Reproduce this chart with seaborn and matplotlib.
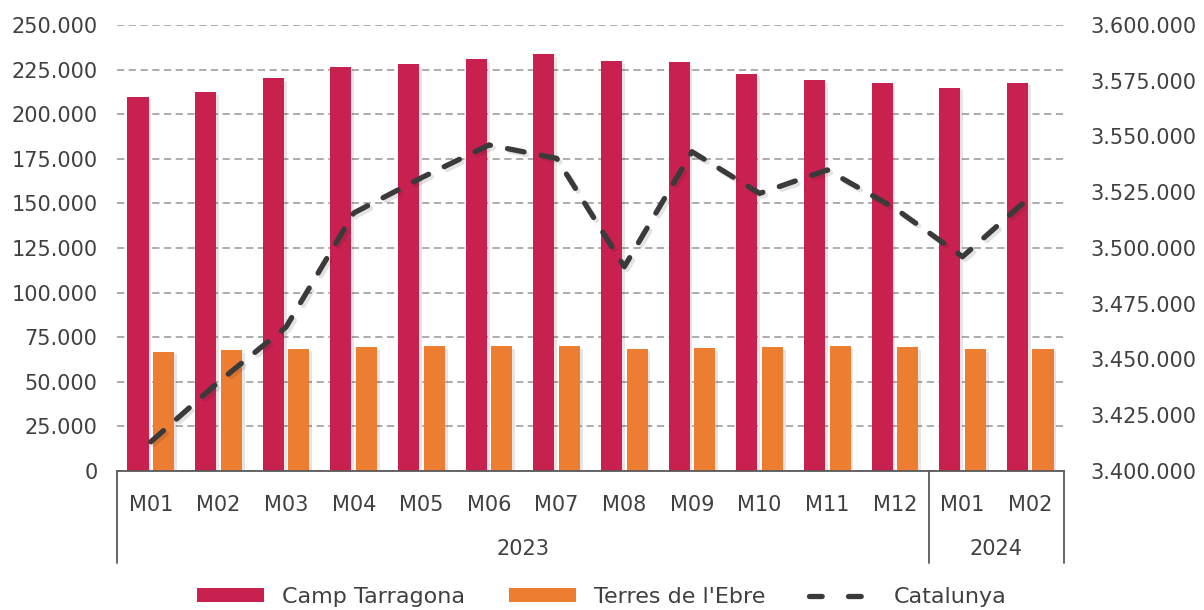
import numpy as np
import pandas as pd
import matplotlib
matplotlib.use("Agg")
import matplotlib.pyplot as plt
import matplotlib.patheffects as pe
from matplotlib.ticker import FuncFormatter, MultipleLocator
from matplotlib.patches import Patch
from matplotlib.lines import Line2D
import seaborn as sns

# ----------------------------
# Data
# ----------------------------
months = ["M01", "M02", "M03", "M04", "M05", "M06", "M07",
          "M08", "M09", "M10", "M11", "M12", "M01", "M02"]
years = ["2023"] * 12 + ["2024"] * 2
camp_tarragona = [209700, 212400, 220100, 226500, 228100, 230900, 233900,
                  229800, 229300, 222700, 219200, 217300, 214900, 217700]
terres_ebre = [66900, 67600, 68200, 69500, 70100, 69900, 70100,
               68400, 68800, 69500, 69900, 69500, 68200, 68600]
catalunya = [3413100, 3439900, 3464600, 3515700, 3531500, 3546200, 3540200,
             3491600, 3543200, 3524500, 3535000, 3517800, 3496100, 3523000]

RED = "#C8204F"
ORANGE = "#ED7D31"
LINE = "#3A3A3A"
TEXT = "#404040"
GRID = "#A6A6A6"
DASH = (0, (3.2, 3.3))

sns.set_theme(style="white")
plt.rcParams["font.family"] = ["DejaVu Sans"]
plt.rcParams["text.color"] = TEXT
plt.rcParams["axes.labelcolor"] = TEXT
plt.rcParams["xtick.color"] = TEXT
plt.rcParams["ytick.color"] = TEXT

n = len(months)
cat = [f"{y}-{m}" for y, m in zip(years, months)]
df = pd.DataFrame({
    "cat": cat * 2,
    "value": camp_tarragona + terres_ebre,
    "serie": ["Camp Tarragona"] * n + ["Terres de l'Ebre"] * n,
})


def fmt_thousands(v, pos=None):
    return f"{int(round(v)):,}".replace(",", ".")


fig = plt.figure(figsize=(12.04, 6.10), dpi=100)
ax = fig.add_axes([117 / 1204, 1 - 471 / 610, (1064 - 117) / 1204, 446 / 610])

shadow = [pe.SimplePatchShadow(offset=(2, -2), shadow_rgbFace="#000000", alpha=0.1), pe.Normal()]

sns.barplot(data=df, x="cat", y="value", hue="serie", order=cat,
            palette=[RED, ORANGE], width=0.76, gap=0.18, saturation=1,
            legend=False, ax=ax)
for p in ax.patches:
    p.set_path_effects(shadow)
    p.set_linewidth(0)

ax.set_ylim(0, 250000)
ax.yaxis.set_major_locator(MultipleLocator(25000))
ax.yaxis.set_major_formatter(FuncFormatter(fmt_thousands))
ax.set_xlim(-0.5, n - 0.5)
ax.set_xlabel("")
ax.set_ylabel("")
ax.set_axisbelow(True)
ax.yaxis.grid(True, color=GRID, linestyle=(0, (4, 2.5)), linewidth=1.3)
for s in ["top", "left", "right"]:
    ax.spines[s].set_visible(False)
ax.spines["bottom"].set_color("#595959")
ax.spines["bottom"].set_linewidth(1.3)
ax.tick_params(axis="y", length=0, labelsize=15, pad=14)
ax.tick_params(axis="x", length=0, labelsize=15, pad=17)
ax.set_xticks(range(n))
ax.set_xticklabels(months)

# Secondary axis: Catalunya
ax2 = ax.twinx()
sns.lineplot(x=np.arange(n), y=catalunya, ax=ax2, color=LINE, linewidth=3.8,
             linestyle=DASH, solid_capstyle="round", dash_capstyle="round",
             path_effects=[pe.SimpleLineShadow(offset=(2, -2), alpha=0.12), pe.Normal()])
ax2.set_ylim(3400000, 3600000)
ax2.yaxis.set_major_locator(MultipleLocator(25000))
ax2.yaxis.set_major_formatter(FuncFormatter(fmt_thousands))
ax2.tick_params(axis="y", length=0, labelsize=15, pad=19)
ax2.set_xlim(-0.5, n - 0.5)
for s in ["top", "left", "right", "bottom"]:
    ax2.spines[s].set_visible(False)
ax2.set_ylabel("")

# Multi-level category axis
trans = ax.get_xaxis_transform()
for xs in [-0.5, 11.5, n - 0.5]:
    ax.plot([xs, xs], [0, -0.207], transform=trans, color="#595959",
            linewidth=1.3, clip_on=False)
ax.text(5.5, -0.175, "2023", transform=trans, ha="center", va="center", fontsize=15)
ax.text(12.5, -0.175, "2024", transform=trans, ha="center", va="center", fontsize=15)

# Legend
handles = [
    Patch(facecolor=RED, edgecolor="none", label="Camp Tarragona"),
    Patch(facecolor=ORANGE, edgecolor="none", label="Terres de l'Ebre"),
    Line2D([0], [0], color=LINE, linewidth=3.8, linestyle=(0, (2.4, 5.0)),
           dash_capstyle="round", label="Catalunya"),
]
fig.legend(handles=handles, loc="center", bbox_to_anchor=(0.5, 1 - 597 / 610),
           ncol=3, frameon=False, fontsize=16, handlelength=3.0, handleheight=0.6,
           handletextpad=0.8, columnspacing=2.0)

fig.savefig("out.png", dpi=100)
